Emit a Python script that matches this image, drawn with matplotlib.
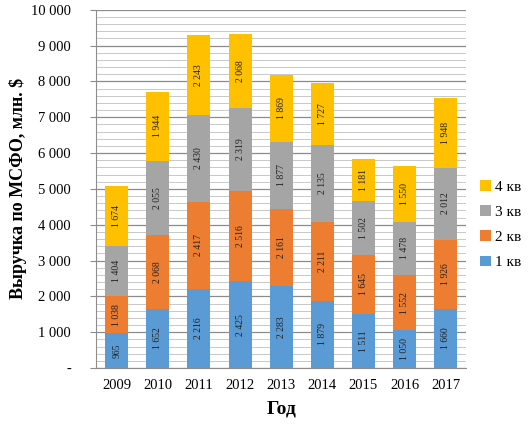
import matplotlib.pyplot as plt
import numpy as np

years = ['2009', '2010', '2011', '2012', '2013', '2014', '2015', '2016', '2017']
q1 = [965, 1652, 2216, 2425, 2283, 1879, 1511, 1050, 1660]
q2 = [1038, 2068, 2417, 2516, 2161, 2211, 1645, 1552, 1926]
q3 = [1404, 2055, 2430, 2319, 1877, 2135, 1502, 1478, 2012]
q4 = [1674, 1944, 2243, 2068, 1869, 1727, 1181, 1550, 1948]
quarters = ['1 кв', '2 кв', '3 кв', '4 кв']
colors = ['#5B9BD5', '#ED7D31', '#A5A5A5', '#FFC000']
yticks = [0, 1000, 2000, 3000, 4000, 5000, 6000, 7000, 8000, 9000, 10000]
ytick_labels = ['-', '1 000', '2 000', '3 000', '4 000', '5 000', '6 000',
                '7 000', '8 000', '9 000', '10 000']

plt.rcParams['font.family'] = ['Liberation Serif', 'DejaVu Serif']


def fmt(v):
    return f'{v:,}'.replace(',', ' ')


fig = plt.figure(figsize=(5.28, 4.26), dpi=100)
ax = fig.add_axes([0.182, 0.136, 0.701, 0.841])

x = np.arange(len(years))
bottom = np.zeros(len(years))
handles = []
for series, label, color in zip([q1, q2, q3, q4], quarters, colors):
    vals = np.array(series)
    b = ax.bar(x, vals, width=0.56, bottom=bottom, color=color, label=label, zorder=3)
    handles.append(b)
    for xi, v, b0 in zip(x, vals, bottom):
        ax.text(xi, b0 + v / 2, fmt(v), rotation=90, ha='center', va='center',
                fontsize=7, color='#222222', zorder=4)
    bottom += vals

ax.set_xlim(-0.5, len(years) - 0.5)
ax.set_ylim(0, 10000)
ax.set_xticks(x)
ax.set_xticklabels(years, fontsize=10.5)
ax.set_yticks(yticks)
ax.set_yticklabels(ytick_labels, fontsize=10.5)
ax.set_yticks(np.arange(0, 10001, 200), minor=True)
ax.grid(axis='y', which='major', color='#8c8c8c', linewidth=0.9, zorder=0)
ax.grid(axis='y', which='minor', color='#c8c8c8', linewidth=0.7, zorder=0)
ax.tick_params(axis='x', length=0, pad=8)
ax.tick_params(axis='y', which='major', length=4, color='#8c8c8c', pad=14)
ax.tick_params(axis='y', which='minor', length=0)
for s in ['top', 'right']:
    ax.spines[s].set_visible(False)
ax.spines['left'].set_color('#8c8c8c')
ax.spines['bottom'].set_color('#8c8c8c')

ax.set_ylabel('Выручка по МСФО, млн. $', fontsize=13, fontweight='bold', labelpad=3)
ax.set_xlabel('Год', fontsize=14, fontweight='bold', labelpad=6)

ax.legend(handles[::-1], quarters[::-1], loc='center left', bbox_to_anchor=(1.0, 0.40),
          frameon=False, fontsize=11, handlelength=0.7, handleheight=0.7,
          handletextpad=0.3, labelspacing=0.75)

fig.savefig('out.png', dpi=100)
